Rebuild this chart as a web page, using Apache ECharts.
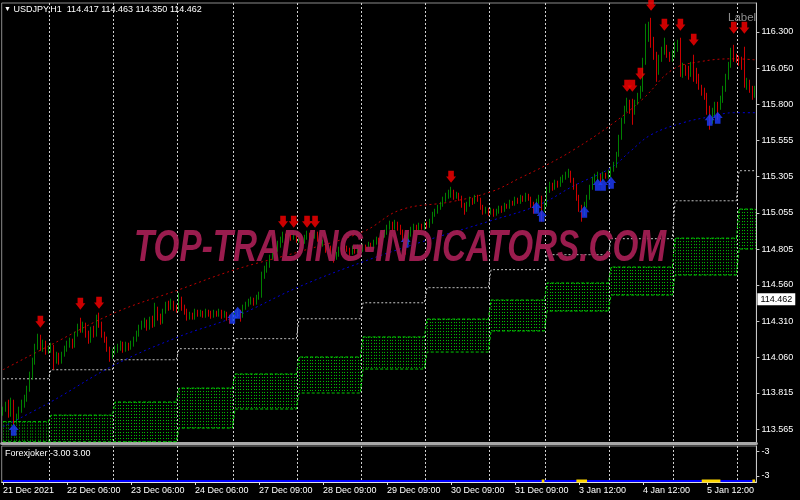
<!DOCTYPE html>
<html><head><meta charset="utf-8">
<script src="https://cdn.jsdelivr.net/npm/echarts@6/dist/echarts.min.js"></script>
<style>html,body{margin:0;padding:0;background:#000;}#c{width:800px;height:500px;}</style>
</head><body><div id="c"></div>
<script>
const FONT = "'Liberation Sans Narrow','Liberation Sans',Arial,sans-serif";

// ---- time axis (H1 bars) ----
const dayNames = ['21 Dec','22 Dec','23 Dec','24 Dec','27 Dec','28 Dec','29 Dec','30 Dec','31 Dec','3 Jan','4 Jan','5 Jan','6 Jan'];
const dayFirstHour = [6,0,0,0,0,0,0,0,0,0,0,0,0];
const dayBarCount = [18,24,24,21,24,24,24,24,21,24,24,24,7];
const firstYear = '2021';
const labelEvery = 24;

// ---- price axis ----
const priceTicks = [116.300,116.050,115.800,115.555,115.305,115.055,114.805,114.560,114.310,114.060,113.815,113.565];
const priceMin = 113.471, priceMax = 116.499;
const headerQuote = [114.417,114.463,114.350,114.462];
const lastQuote = 114.462;

// ---- OHLC ----
const opens = [
113.679,113.700,113.735,113.666,113.755,113.632,113.645,113.700,113.735,113.783,113.838,113.920,114.030,114.127,114.196,114.127,114.154,114.099,
114.113,114.134,114.044,114.072,114.030,114.079,114.113,114.147,114.168,114.141,114.216,114.264,114.251,114.278,114.216,114.182,114.251,114.216,114.333,114.285,114.216,114.182,114.113,114.065,
114.099,114.113,114.127,114.147,114.113,114.147,114.127,114.147,114.182,114.216,114.264,114.285,114.306,114.264,114.320,114.285,114.388,114.333,114.306,114.374,114.423,114.402,114.436,114.402,
114.388,114.457,114.402,114.374,114.333,114.354,114.333,114.374,114.354,114.368,114.347,114.374,114.361,114.347,114.368,114.354,114.374,114.347,114.361,114.333,114.320,
114.347,114.354,114.374,114.347,114.402,114.423,114.443,114.457,114.436,114.471,114.491,114.622,114.664,114.698,114.746,114.767,114.801,114.836,114.870,114.891,114.870,114.897,114.884,114.904,
114.870,114.891,114.856,114.884,114.904,114.870,114.891,114.911,114.870,114.836,114.849,114.801,114.815,114.787,114.746,114.767,114.801,114.787,114.815,114.801,114.780,114.808,114.794,114.815,
114.801,114.822,114.808,114.836,114.822,114.849,114.870,114.856,114.897,114.918,114.952,114.973,114.952,114.980,114.952,114.925,114.884,114.856,114.904,114.939,114.952,114.939,114.966,114.952,
114.973,114.966,114.994,115.042,115.062,115.090,115.110,115.145,115.173,115.179,115.200,115.166,115.179,115.159,115.110,115.076,115.110,115.145,115.131,115.159,115.145,115.097,115.062,115.076,
115.055,115.069,115.049,115.062,115.083,115.076,115.104,115.097,115.124,115.117,115.145,115.131,115.159,115.145,115.173,115.152,115.110,115.076,115.131,115.159,115.090,
115.110,115.214,115.241,115.228,115.262,115.248,115.283,115.296,115.310,115.331,115.283,115.241,115.159,115.090,115.062,115.110,115.159,115.228,115.283,115.296,115.310,115.283,115.317,115.303,
115.331,115.351,115.379,115.455,115.572,115.682,115.764,115.806,115.778,115.750,115.812,115.861,115.902,116.094,116.260,116.280,116.246,116.143,116.026,116.122,116.163,116.198,116.143,116.122,
116.150,116.191,116.211,116.039,116.053,116.026,116.005,116.039,116.026,115.998,115.916,115.888,115.861,115.764,115.695,115.750,115.792,115.778,115.833,115.902,115.984,116.074,116.143,116.122,
116.108,116.094,116.074,115.936,115.957,115.902,115.861];
const highs = [
113.721,113.755,113.769,113.783,113.769,113.673,113.721,113.769,113.803,113.865,113.962,114.058,114.154,114.223,114.216,114.182,114.175,114.141,
114.161,114.147,114.099,114.092,114.099,114.141,114.175,114.196,114.189,114.237,114.292,114.333,114.306,114.299,114.244,114.271,114.278,114.354,114.368,114.306,114.237,114.203,114.134,114.120,
114.141,114.154,114.175,114.168,114.168,114.161,114.175,114.203,114.244,114.285,114.313,114.333,114.320,114.340,114.347,114.436,114.409,114.361,114.395,114.443,114.450,114.464,114.450,114.423,
114.505,114.478,114.423,114.395,114.374,114.368,114.395,114.388,114.388,114.381,114.395,114.388,114.381,114.388,114.381,114.395,114.388,114.381,114.374,114.354,114.368,
114.374,114.395,114.388,114.423,114.443,114.464,114.478,114.471,114.491,114.512,114.650,114.691,114.718,114.767,114.794,114.829,114.863,114.891,114.925,114.911,114.918,114.911,114.932,114.918,
114.911,114.904,114.904,114.932,114.918,114.911,114.932,114.925,114.884,114.870,114.863,114.836,114.829,114.801,114.787,114.822,114.815,114.836,114.829,114.815,114.829,114.822,114.836,114.829,
114.842,114.836,114.856,114.849,114.870,114.891,114.884,114.918,114.939,114.973,115.001,114.994,115.007,114.994,114.973,114.939,114.904,114.925,114.959,114.980,114.973,114.987,114.980,114.994,
114.994,115.014,115.062,115.083,115.110,115.131,115.166,115.193,115.214,115.234,115.214,115.200,115.193,115.173,115.124,115.131,115.166,115.159,115.179,115.179,115.159,115.110,115.097,115.090,
115.090,115.083,115.083,115.104,115.104,115.124,115.117,115.145,115.138,115.166,115.159,115.179,115.173,115.193,115.186,115.166,115.131,115.152,115.179,115.173,115.138,
115.234,115.269,115.262,115.283,115.276,115.303,115.317,115.338,115.358,115.345,115.296,115.255,115.179,115.110,115.131,115.179,115.248,115.303,115.324,115.338,115.324,115.338,115.331,115.351,
115.372,115.406,115.475,115.592,115.709,115.792,115.847,115.833,115.840,115.833,115.881,115.929,116.122,116.356,116.370,116.397,116.266,116.163,116.143,116.198,116.260,116.211,116.163,116.177,
116.232,116.246,116.260,116.088,116.074,116.067,116.094,116.143,116.053,116.012,115.936,115.916,115.881,115.792,115.778,115.819,115.819,115.861,115.929,116.012,116.094,116.191,116.211,116.150,
116.136,116.129,116.198,115.984,115.971,115.929,115.929];
const lows = [
113.659,113.686,113.645,113.652,113.597,113.604,113.632,113.679,113.714,113.755,113.824,113.907,114.010,114.113,114.106,114.099,114.079,114.085,
114.092,113.975,114.017,114.010,114.017,114.065,114.099,114.127,114.120,114.127,114.203,114.230,114.230,114.196,114.154,114.161,114.196,114.203,114.264,114.196,114.161,114.099,114.030,114.051,
114.079,114.092,114.106,114.092,114.099,114.106,114.113,114.134,114.168,114.203,114.251,114.264,114.244,114.251,114.264,114.271,114.313,114.285,114.292,114.361,114.381,114.388,114.381,114.368,
114.374,114.381,114.354,114.313,114.320,114.320,114.320,114.340,114.340,114.333,114.333,114.340,114.326,114.333,114.340,114.340,114.326,114.333,114.313,114.292,114.306,
114.313,114.333,114.306,114.333,114.388,114.409,114.423,114.416,114.423,114.457,114.471,114.601,114.643,114.677,114.732,114.746,114.787,114.815,114.849,114.842,114.856,114.863,114.870,114.849,
114.849,114.829,114.842,114.870,114.822,114.856,114.877,114.856,114.815,114.822,114.780,114.787,114.767,114.712,114.732,114.753,114.767,114.774,114.787,114.760,114.767,114.774,114.780,114.787,
114.787,114.794,114.794,114.808,114.808,114.836,114.836,114.842,114.884,114.904,114.939,114.932,114.939,114.932,114.904,114.856,114.767,114.836,114.891,114.918,114.925,114.925,114.939,114.939,
114.946,114.952,114.980,115.028,115.049,115.076,115.097,115.131,115.152,115.159,115.145,115.152,115.138,115.090,115.042,115.062,115.097,115.110,115.117,115.131,115.076,115.042,115.049,115.035,
115.042,115.028,115.035,115.049,115.055,115.062,115.083,115.083,115.104,115.104,115.117,115.117,115.131,115.131,115.138,115.090,115.049,115.062,115.117,114.994,115.062,
115.097,115.193,115.207,115.214,115.228,115.234,115.262,115.283,115.296,115.262,115.214,115.138,115.062,114.994,115.035,115.090,115.145,115.214,115.262,115.276,115.262,115.269,115.290,115.290,
115.296,115.338,115.365,115.441,115.558,115.668,115.750,115.737,115.661,115.730,115.799,115.840,115.888,116.074,116.232,116.191,116.108,115.957,116.005,116.094,116.143,116.122,116.094,116.094,
116.122,116.163,115.991,115.984,115.998,115.971,115.991,115.957,115.943,115.902,115.861,115.833,115.730,115.627,115.668,115.723,115.695,115.764,115.812,115.888,115.971,116.053,116.094,116.088,
116.067,116.039,115.916,115.902,115.881,115.833,115.847];
const closes = [
113.700,113.735,113.666,113.755,113.632,113.645,113.700,113.735,113.783,113.838,113.920,114.030,114.127,114.196,114.127,114.154,114.099,114.113,
114.134,114.044,114.072,114.030,114.079,114.113,114.147,114.168,114.141,114.216,114.264,114.251,114.278,114.216,114.182,114.251,114.216,114.333,114.285,114.216,114.182,114.113,114.065,114.099,
114.113,114.127,114.147,114.113,114.147,114.127,114.147,114.182,114.216,114.264,114.285,114.306,114.264,114.320,114.285,114.388,114.333,114.306,114.374,114.423,114.402,114.436,114.402,114.388,
114.457,114.402,114.374,114.333,114.354,114.333,114.374,114.354,114.368,114.347,114.374,114.361,114.347,114.368,114.354,114.374,114.347,114.361,114.333,114.320,114.347,
114.354,114.374,114.347,114.402,114.423,114.443,114.457,114.436,114.471,114.491,114.622,114.664,114.698,114.746,114.767,114.801,114.836,114.870,114.891,114.870,114.897,114.884,114.904,114.870,
114.891,114.856,114.884,114.904,114.870,114.891,114.911,114.870,114.836,114.849,114.801,114.815,114.787,114.746,114.767,114.801,114.787,114.815,114.801,114.780,114.808,114.794,114.815,114.801,
114.822,114.808,114.836,114.822,114.849,114.870,114.856,114.897,114.918,114.952,114.973,114.952,114.980,114.952,114.925,114.884,114.856,114.904,114.939,114.952,114.939,114.966,114.952,114.973,
114.966,114.994,115.042,115.062,115.090,115.110,115.145,115.173,115.179,115.200,115.166,115.179,115.159,115.110,115.076,115.110,115.145,115.131,115.159,115.145,115.097,115.062,115.076,115.055,
115.069,115.049,115.062,115.083,115.076,115.104,115.097,115.124,115.117,115.145,115.131,115.159,115.145,115.173,115.152,115.110,115.076,115.131,115.159,115.090,115.110,
115.214,115.241,115.228,115.262,115.248,115.283,115.296,115.310,115.331,115.283,115.241,115.159,115.090,115.062,115.110,115.159,115.228,115.283,115.296,115.310,115.283,115.317,115.303,115.331,
115.351,115.379,115.455,115.572,115.682,115.764,115.806,115.778,115.750,115.812,115.861,115.902,116.094,116.260,116.280,116.246,116.143,116.026,116.122,116.163,116.198,116.143,116.122,116.150,
116.191,116.211,116.039,116.053,116.026,116.005,116.039,116.026,115.998,115.916,115.888,115.861,115.764,115.695,115.750,115.792,115.778,115.833,115.902,115.984,116.074,116.143,116.122,116.108,
116.094,116.074,115.936,115.957,115.902,115.861,115.902];

// ---- daily levels (one value per trading day) ----
const dayUpper     = [113.913,113.975,114.044,114.120,114.189,114.326,114.436,114.540,114.664,114.767,114.877,115.138,115.345];
const dayBoxTop    = [113.618,113.663,113.753,113.849,113.946,114.063,114.201,114.324,114.455,114.572,114.682,114.881,115.081];
const dayBoxBottom = [113.480,113.480,113.480,113.574,113.705,113.815,113.980,114.097,114.242,114.379,114.489,114.627,114.806];

// ---- moving averages (read at sample bars) ----
const maRedIdx  = [0,18,42,66,87,111,135,149,168,183,194,204,214,228,240,251,261,274,282];
const maRedVal  = [113.975,114.147,114.368,114.526,114.664,114.787,114.925,115.075,115.131,115.200,115.296,115.386,115.489,115.661,115.840,116.040,116.094,116.115,116.108];
const maBlueIdx = [0,18,42,66,87,111,135,156,183,201,214,228,235,243,255,265,274,282];
const maBlueVal = [113.583,113.755,114.010,114.203,114.340,114.546,114.718,114.849,115.001,115.110,115.241,115.365,115.475,115.592,115.675,115.716,115.744,115.744];

// ---- signal arrows ----
const sellIdx   = [14,29,36,105,109,114,117,168,234,236,239,243,248,254,259,274,278];
const sellPrice = [114.306,114.430,114.436,114.994,114.994,114.994,114.994,115.303,115.929,115.929,116.012,116.487,116.349,116.349,116.246,116.328,116.328];
const buyIdx    = [4,86,88,151,200,202,218,223,225,228,265,268];
const buyPrice  = [113.563,114.333,114.368,114.856,115.090,115.035,115.062,115.248,115.248,115.262,115.695,115.709];

// ---- Forexjoker sub window ----
const jokerLevel = -3;
const jokerYellowStart = [202,215,262,281];
const jokerYellowEnd   = [203,219,269,282];
const subTickValues = [2.1,-2.1];
const subTickLabels = ['-3','-3'];

// ---------- build ----------
const N = closes.length;
const categories = [], dayStart = [], dayOf = [];
dayNames.forEach((d,k)=>{
  dayStart.push(categories.length);
  for (let h=0; h<dayBarCount[k]; h++){
    const hh = dayFirstHour[k]+h;
    categories.push(d+' '+(hh<10?'0':'')+hh+':00');
    dayOf.push(k);
  }
});
const dayStartSet = new Set(dayStart.slice(1));
const candleData = closes.map((c,i)=>[opens[i], c, lows[i], highs[i]]);
const upperPerBar = dayOf.map(k=>dayUpper[k]);
const boxTopPerBar = dayOf.map(k=>dayBoxTop[k]);
const boxBotPerBar = dayOf.map(k=>dayBoxBottom[k]);
function sparse(idx, vals){ const a = new Array(N).fill(null); idx.forEach((ix,j)=>{a[ix]=vals[j];}); return a; }
const jokerBlue = categories.map(()=>jokerLevel);
const jokerYellow = new Array(N).fill(null);
jokerYellowStart.forEach((s,j)=>{ for(let i=s;i<=jokerYellowEnd[j];i++) jokerYellow[i]=jokerLevel; });

const DOWN = 'path://M2.2,0H7.8V5.2H10L5,11L0,5.2H2.2Z';
const UP = 'path://M5,0L10,5.8H7.8V11H2.2V5.8H0Z';
const gridL = 1.7, gridW = 754.7;
const splitLine = {show:true, interval:(i)=>dayStartSet.has(i), lineStyle:{color:'#d0d0d0', width:1, type:[2,2]}};

const chart = echarts.init(document.getElementById('c'), null, {renderer:'canvas'});
chart.setOption({
  backgroundColor:'#000',
  animation:false,
  textStyle:{fontFamily:FONT},
  title:[
    {text:'{t|▼} USDJPY,H1  '+headerQuote.map(v=>v.toFixed(3)).join(' '), left:4, top:5, padding:0,
     textStyle:{color:'#fff', fontSize:9, fontWeight:'normal', fontFamily:FONT, rich:{t:{fontSize:7,color:'#fff'}}}},
    {text:'Label', left:728, top:12, padding:0, textStyle:{color:'#8c8c8c', fontSize:11.5, fontWeight:'normal', fontFamily:FONT}},
    {text:'Forexjoker -3.00 3.00', left:5, top:449, padding:0, textStyle:{color:'#fff', fontSize:9, fontWeight:'normal', fontFamily:FONT}}
  ],
  graphic:[{
    type:'text', x:400, y:249, scaleX:0.756, z:100, silent:true,
    style:{text:'TOP-TRADING-INDICATORS.COM', font:"italic bold 44px 'Liberation Sans', Arial, sans-serif",
      fill:'#a21d52', align:'center', verticalAlign:'middle', opacity:0.95}
  }],
  grid:[
    {left:gridL, top:3, width:gridW, height:440, show:true, borderColor:'#8a8a8a', borderWidth:1, backgroundColor:'transparent'},
    {left:gridL, top:446, width:gridW, height:36, show:true, borderColor:'#8a8a8a', borderWidth:1, backgroundColor:'transparent'}
  ],
  xAxis:[
    {type:'category', gridIndex:0, data:categories, boundaryGap:true,
     axisLine:{show:true, onZero:false, lineStyle:{color:'#a8a8a8', width:3}}, axisTick:{show:false}, axisLabel:{show:false},
     splitLine:splitLine},
    {type:'category', gridIndex:1, data:categories, boundaryGap:true,
     axisLine:{show:true, onZero:false, lineStyle:{color:'#e0e0e0', width:1}},
     axisTick:{show:true, alignWithLabel:true, length:3, interval:(i)=>i%labelEvery===0, lineStyle:{color:'#e0e0e0'}},
     axisLabel:{show:true, interval:(i)=>i%labelEvery===0, color:'#fff', fontSize:9, fontFamily:FONT, align:'left', margin:4,
       formatter:(v,i)=> i===0 ? dayNames[0]+' '+firstYear : v},
     splitLine:splitLine}
  ],
  yAxis:[
    {type:'value', gridIndex:0, position:'right', min:priceMin, max:priceMax, scale:true,
     axisLine:{show:true, lineStyle:{color:'#c8c8c8'}},
     axisTick:{show:true, length:3, customValues:priceTicks, lineStyle:{color:'#c8c8c8'}},
     axisLabel:{show:true, customValues:priceTicks, color:'#fff', fontSize:9, fontFamily:FONT, margin:5, formatter:(v)=>v.toFixed(3)},
     splitLine:{show:false}},
    {type:'value', gridIndex:1, position:'right', min:-3.15, max:3,
     axisLine:{show:true, lineStyle:{color:'#c8c8c8'}},
     axisTick:{show:true, length:3, customValues:subTickValues, lineStyle:{color:'#c8c8c8'}},
     axisLabel:{show:true, customValues:subTickValues, color:'#fff', fontSize:9, fontFamily:FONT, margin:5,
       formatter:(v)=>{const j=subTickValues.findIndex(t=>Math.abs(t-v)<1e-6); return j>=0?subTickLabels[j]:'';}},
     splitLine:{show:false}}
  ],
  series:[
    {type:'custom', xAxisIndex:0, yAxisIndex:0, z:1, clip:true, silent:true,
     data: boxTopPerBar.map((t,i)=>[i, boxBotPerBar[i], t]),
     renderItem:(params, api)=>{
       const i = api.value(0);
       const a = api.coord([i, api.value(2)]);
       const b = api.coord([i, api.value(1)]);
       const x = Math.round(a[0])+0.5;
       return {type:'line', shape:{x1:x, y1:a[1], x2:x, y2:b[1]}, style:{stroke:'#00c400', lineWidth:1, lineDash:[1,2]}};
     }},
    {type:'line', xAxisIndex:0, yAxisIndex:0, z:1, data:boxTopPerBar, showSymbol:false, silent:true,
     lineStyle:{color:'#00d000', width:1, type:[3,2]}},
    {type:'line', xAxisIndex:0, yAxisIndex:0, z:1, data:boxBotPerBar, showSymbol:false, silent:true,
     lineStyle:{color:'#00d000', width:1, type:[3,2]}},
    {type:'line', xAxisIndex:0, yAxisIndex:0, z:1, data:upperPerBar, showSymbol:false, silent:true,
     lineStyle:{color:'#c8c8c8', width:1, type:[2,2]}},
    {type:'line', xAxisIndex:0, yAxisIndex:0, z:2, data:sparse(maRedIdx, maRedVal), connectNulls:true, smooth:0.4,
     showSymbol:false, silent:true, lineStyle:{color:'#c00000', width:1, type:[2,3]}},
    {type:'line', xAxisIndex:0, yAxisIndex:0, z:2, data:sparse(maBlueIdx, maBlueVal), connectNulls:true, smooth:0.4,
     showSymbol:false, silent:true, lineStyle:{color:'#0000d8', width:1, type:[2,3]}},
    {type:'candlestick', xAxisIndex:0, yAxisIndex:0, z:3, data:candleData, barWidth:1.2,
     itemStyle:{color:'#00a000', color0:'#ff0000', borderColor:'#00a000', borderColor0:'#ff0000', borderWidth:0.8},
     markLine:{silent:true, symbol:['none','none'], data:[{yAxis:lastQuote}],
       lineStyle:{color:'transparent', width:0},
       label:{show:true, position:'end', formatter:()=>lastQuote.toFixed(3), backgroundColor:'#fff', color:'#000',
         fontSize:9, fontFamily:FONT, padding:[2,3,1,3], distance:1}}},
    {type:'scatter', xAxisIndex:0, yAxisIndex:0, z:4, symbol:DOWN, symbolSize:[10,12], silent:true,
     itemStyle:{color:'#ff0000'}, data:sellIdx.map((ix,j)=>[ix, sellPrice[j]])},
    {type:'scatter', xAxisIndex:0, yAxisIndex:0, z:4, symbol:UP, symbolSize:[10,12], silent:true,
     itemStyle:{color:'#1e3cff'}, data:buyIdx.map((ix,j)=>[ix, buyPrice[j]])},
    {type:'line', xAxisIndex:1, yAxisIndex:1, z:2, data:jokerBlue, showSymbol:false, silent:true,
     lineStyle:{color:'#0000ff', width:2}},
    {type:'line', xAxisIndex:1, yAxisIndex:1, z:3, data:jokerYellow, showSymbol:false, silent:true,
     lineStyle:{color:'#ffd700', width:3}}
  ]
});
</script>
</body></html>
